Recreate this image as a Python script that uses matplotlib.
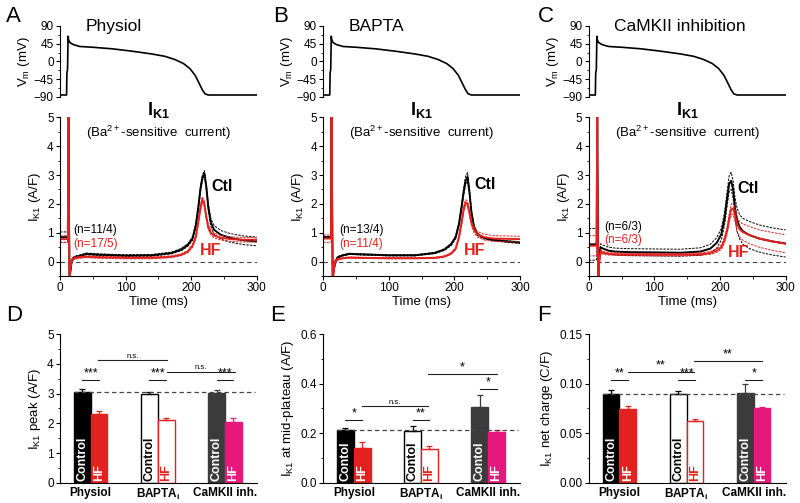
import numpy as np
import matplotlib
matplotlib.use("Agg")
import matplotlib.pyplot as plt
from matplotlib.ticker import MultipleLocator

plt.rcParams['font.family'] = ['Liberation Sans', 'DejaVu Sans']
plt.rcParams['mathtext.fontset'] = 'custom'
plt.rcParams['mathtext.rm'] = 'Liberation Sans'
plt.rcParams['mathtext.it'] = 'Liberation Sans:italic'
plt.rcParams['mathtext.bf'] = 'Liberation Sans:bold'
plt.rcParams['mathtext.default'] = 'regular'

RED = '#e3221f'
MAG = '#e5187c'
DGREY = '#3b3b3b'

# AP-clamp command waveform (same for the three conditions)
t_ap = [0, 10, 10.5, 11.5, 12.3, 13, 15, 20, 30, 50, 80, 110, 140, 160, 175,
        188, 198, 206, 212, 217, 221, 226, 300]
vm_ap = [-85, -85, -30, -20, 64, 55, 48, 43, 38, 36, 32, 26, 19, 13, 5,
         -5, -18, -35, -55, -72, -82, -85, -85]

# I_K1 traces, common time grid (ms)
t_ik1 = [0, 11, 12, 12.8, 13.6, 14.5, 16, 18, 22, 30, 40, 60, 100, 140, 170, 185,
         195, 202, 207, 211, 214, 217, 220, 223, 226, 230, 235, 245, 260, 280, 300]

# A: Physiol
ctl_a = [0.85, 0.85, 0.9, 5.2, 2.0, -0.6, -0.3, 0.05, 0.15, 0.2, 0.27, 0.24, 0.21, 0.22, 0.3, 0.42,
         0.58, 0.8, 1.25, 1.9, 2.5, 2.9, 3.07, 2.6, 1.9, 1.35, 1.1, 0.93, 0.82, 0.74, 0.70]
ctl_a_sem = [0.18, 0.18, 0.18, 0, 0, 0, 0.05, 0.05, 0.04, 0.03, 0.03, 0.03, 0.03, 0.03, 0.03, 0.04,
             0.05, 0.06, 0.08, 0.1, 0.1, 0.1, 0.08, 0.1, 0.12, 0.14, 0.15, 0.15, 0.15, 0.15, 0.15]
hf_a = [0.78, 0.78, 0.8, 5.2, 1.5, -0.7, -0.2, 0.05, 0.12, 0.15, 0.17, 0.15, 0.13, 0.13, 0.17, 0.24,
        0.35, 0.55, 0.85, 1.4, 1.85, 2.15, 2.0, 1.55, 1.2, 1.0, 0.9, 0.83, 0.78, 0.76, 0.76]
hf_a_sem = [0.12, 0.12, 0.12, 0, 0, 0, 0.05, 0.05, 0.04, 0.03, 0.03, 0.03, 0.03, 0.03, 0.03, 0.03,
            0.04, 0.05, 0.06, 0.08, 0.1, 0.1, 0.1, 0.09, 0.08, 0.08, 0.08, 0.08, 0.08, 0.08, 0.08]

# B: BAPTA
ctl_b = [0.85, 0.85, 0.9, 5.2, 2.0, -0.6, -0.3, -0.05, 0.15, 0.22, 0.27, 0.25, 0.22, 0.22, 0.3, 0.42,
         0.6, 0.85, 1.3, 1.9, 2.4, 2.8, 2.94, 2.4, 1.7, 1.2, 0.95, 0.82, 0.75, 0.7, 0.66]
ctl_b_sem = [0.03, 0.03, 0.03, 0, 0, 0, 0.05, 0.08, 0.03, 0.02, 0.02, 0.02, 0.02, 0.02, 0.02, 0.03,
             0.04, 0.05, 0.08, 0.1, 0.12, 0.15, 0.15, 0.1, 0.08, 0.05, 0.04, 0.03, 0.03, 0.03, 0.03]
hf_b = [0.8, 0.8, 0.82, 5.2, 1.5, -0.7, -0.3, 0.0, 0.08, 0.12, 0.14, 0.13, 0.12, 0.12, 0.13, 0.18,
        0.28, 0.45, 0.85, 1.35, 1.8, 2.05, 2.0, 1.7, 1.35, 1.1, 0.95, 0.85, 0.8, 0.79, 0.78]
hf_b_sem = [0.13, 0.13, 0.13, 0, 0, 0, 0.05, 0.05, 0.03, 0.02, 0.02, 0.02, 0.02, 0.02, 0.02, 0.02,
            0.03, 0.04, 0.06, 0.08, 0.1, 0.1, 0.1, 0.1, 0.1, 0.1, 0.1, 0.1, 0.1, 0.1, 0.1]

# C: CaMKII inhibition
ctl_c = [0.6, 0.6, 0.65, 5.2, 2.0, -0.5, 0.2, 0.5, 0.45, 0.38, 0.35, 0.33, 0.32, 0.31, 0.35, 0.45,
         0.65, 0.95, 1.5, 2.2, 2.7, 2.8, 2.5, 1.85, 1.45, 1.2, 1.05, 0.92, 0.8, 0.7, 0.63]
ctl_c_sem = [0.55, 0.55, 0.55, 0, 0, 0, 0.1, 0.12, 0.12, 0.12, 0.12, 0.12, 0.12, 0.12, 0.13, 0.15,
             0.18, 0.2, 0.22, 0.25, 0.28, 0.3, 0.3, 0.35, 0.4, 0.42, 0.45, 0.47, 0.47, 0.47, 0.47]
hf_c = [0.55, 0.55, 0.6, 5.2, 1.0, -0.6, 0.0, 0.35, 0.3, 0.27, 0.26, 0.25, 0.24, 0.24, 0.26, 0.3,
        0.38, 0.5, 0.75, 1.1, 1.5, 1.8, 1.85, 1.6, 1.3, 1.12, 1.02, 0.92, 0.8, 0.7, 0.62]
hf_c_sem = [0.35, 0.35, 0.35, 0, 0, 0, 0.1, 0.06, 0.05, 0.04, 0.04, 0.04, 0.04, 0.04, 0.04, 0.05,
            0.06, 0.08, 0.1, 0.12, 0.15, 0.18, 0.2, 0.22, 0.25, 0.27, 0.28, 0.3, 0.3, 0.31, 0.31]

# bar summaries
groups = ['Physiol', 'BAPTA$_\\mathregular{i}$', 'CaMKII inh.']
peak_ctl = [3.05, 3.0, 3.02]
peak_ctl_err = [0.1, 0.07, 0.1]
peak_hf = [2.3, 2.1, 2.05]
peak_hf_err = [0.1, 0.07, 0.13]
mid_ctl = [0.215, 0.21, 0.305]
mid_ctl_err = [0.008, 0.018, 0.048]
mid_hf = [0.14, 0.135, 0.205]
mid_hf_err = [0.025, 0.015, 0.008]
chg_ctl = [0.090, 0.090, 0.091]
chg_ctl_err = [0.004, 0.003, 0.009]
chg_hf = [0.074, 0.062, 0.075]
chg_hf_err = [0.004, 0.002, 0.002]

fig = plt.figure(figsize=(8, 5.03), dpi=100)

lefts = [0.075, 0.404, 0.736]
w = 0.246


def style(ax):
    for s in ['top', 'right']:
        ax.spines[s].set_visible(False)
    ax.tick_params(direction='out', length=3, width=0.8, labelsize=8.5, pad=1.5)
    ax.tick_params(which='minor', direction='out', length=1.8, width=0.6)


def trace_panel(ax, ctl, ctl_sem, hf, hf_sem, n_ctl, n_hf, lab_pos):
    t = np.array(t_ik1)
    ax.plot([0, 300], [0, 0], color='#444444', lw=0.8, dashes=(4, 3))
    for m, s, c in [(ctl, ctl_sem, 'black'), (hf, hf_sem, RED)]:
        m = np.array(m)
        s = np.array(s)
        ax.plot(t, m + s, color=c, lw=0.7, dashes=(2.5, 1.2))
        ax.plot(t, m - s, color=c, lw=0.7, dashes=(2.5, 1.2))
        ax.plot(t, m, color=c, lw=1.4)
    ax.set_xlim(0, 300)
    ax.set_ylim(-0.5, 5)
    ax.set_xticks([0, 100, 200, 300])
    ax.xaxis.set_minor_locator(MultipleLocator(50))
    ax.set_yticks([0, 1, 2, 3, 4, 5])
    ax.yaxis.set_minor_locator(MultipleLocator(0.5))
    style(ax)
    ax.set_xlabel('Time (ms)', fontsize=9.5, labelpad=1)
    ax.set_ylabel('I$_{K1}$ (A/F)', fontsize=9.5, labelpad=3)
    ax.text(150, 5.07, r'$\mathbf{I_{K1}}$', fontsize=13, ha='center', va='baseline', clip_on=False)
    ax.text(150, 4.45, '(Ba$^{2+}$-sensitive  current)', fontsize=9.5, ha='center', va='center')
    (cx, cy), (hx, hy), (nx, ny1, ny2) = lab_pos
    ax.text(cx, cy, 'Ctl', fontsize=11.5, fontweight='bold', va='center')
    ax.text(hx, hy, 'HF', fontsize=11.5, fontweight='bold', color=RED, va='center')
    ax.text(nx, ny1, n_ctl, fontsize=8.5, va='center')
    ax.text(nx, ny2, n_hf, fontsize=8.5, va='center', color=RED)


def ap_panel(ax):
    ax.plot(t_ap, vm_ap, color='black', lw=1.2)
    ax.set_xlim(0, 300)
    ax.set_ylim(-90, 90)
    ax.set_yticks([-90, -45, 0, 45, 90])
    ax.yaxis.set_minor_locator(MultipleLocator(22.5))
    ax.spines['bottom'].set_visible(False)
    ax.set_xticks([])
    style(ax)
    ax.set_ylabel('V$_m$ (mV)', fontsize=9.5, labelpad=1)


cent = np.array([1.0, 3.0, 5.0])
ctl_face = ['black', 'white', DGREY]
ctl_edge = ['black', 'black', DGREY]
hf_face = [RED, 'white', MAG]
hf_edge = [RED, RED, MAG]
ctl_txt = ['white', 'black', 'white']
hf_txt = ['white', RED, 'white']


def sig(ax, x0, x1, y, txt, fs=9):
    ax.plot([x0, x1], [y, y], color='#222222', lw=0.8)
    ax.annotate(txt, ((x0 + x1) / 2, y), xytext=(0, 0.3), textcoords='offset points',
                ha='center', va='bottom', fontsize=fs)


def bar_panel(ax, ctl, ctl_err, hf, hf_err, ref, ymax, ctl_word):
    ax.plot([0.5, 5.9], [ref, ref], color='#444444', lw=0.9, dashes=(3.5, 2.5), zorder=4)
    for i, c in enumerate(cent):
        ax.bar(c - 0.25, ctl[i], width=0.5, color=ctl_face[i], edgecolor=ctl_edge[i], lw=1.0, zorder=2)
        ax.bar(c + 0.25, hf[i], width=0.5, color=hf_face[i], edgecolor=hf_edge[i], lw=1.0, zorder=2)
        ax.errorbar(c - 0.25, ctl[i], yerr=[[0], [ctl_err[i]]], color=ctl_edge[i], capsize=2.5,
                    lw=0.9, capthick=0.9, zorder=3)
        ax.errorbar(c + 0.25, hf[i], yerr=[[0], [hf_err[i]]], color=hf_edge[i], capsize=2.5,
                    lw=0.9, capthick=0.9, zorder=3)
        ax.text(c - 0.25, ymax * 0.012, ctl_word, rotation=90, color=ctl_txt[i], fontsize=9,
                fontweight='bold', ha='center', va='bottom', zorder=5)
        ax.text(c + 0.25, ymax * 0.012, 'HF', rotation=90, color=hf_txt[i], fontsize=9,
                fontweight='bold', ha='center', va='bottom', zorder=5)
    ax.set_xlim(0.086, 5.95)
    ax.set_ylim(0, ymax)
    ax.set_xticks(cent)
    ax.set_xticklabels(groups, fontweight='bold', fontsize=9)
    style(ax)
    ax.tick_params(axis='x', length=0, pad=3)


# top row: AP waveforms
for i in range(3):
    ax = fig.add_axes([lefts[i], 0.8072, w, 0.1412])
    ap_panel(ax)

# middle row: I_K1 traces
axA = fig.add_axes([lefts[0], 0.4511, w, 0.3157])
trace_panel(axA, ctl_a, ctl_a_sem, hf_a, hf_a_sem, '(n=11/4)', '(n=17/5)',
            ((230, 2.6), (213, 0.4), (20, 1.1, 0.62)))
axB = fig.add_axes([lefts[1], 0.4511, w, 0.3157])
trace_panel(axB, ctl_b, ctl_b_sem, hf_b, hf_b_sem, '(n=13/4)', '(n=11/4)',
            ((230, 2.68), (214, 0.4), (24, 1.1, 0.62)))
axC = fig.add_axes([lefts[2], 0.4511, w, 0.3157])
trace_panel(axC, ctl_c, ctl_c_sem, hf_c, hf_c_sem, '(n=6/3)', '(n=6/3)',
            ((227, 2.55), (212, 0.3), (24, 1.2, 0.75)))

# bottom row: bar summaries
axD = fig.add_axes([lefts[0], 0.0404, w, 0.295])
bar_panel(axD, peak_ctl, peak_ctl_err, peak_hf, peak_hf_err, 3.05, 5, 'Control')
axD.set_yticks([0, 1, 2, 3, 4, 5])
axD.yaxis.set_minor_locator(MultipleLocator(0.5))
axD.set_ylabel('I$_{K1}$ peak (A/F)', fontsize=9.5, labelpad=3)
for c in cent:
    sig(axD, c - 0.25, c + 0.25, 3.45, '***')
sig(axD, 1.23, 3.26, 4.13, 'n.s.', fs=5.5)
sig(axD, 3.26, 5.29, 3.74, 'n.s.', fs=5.5)

axE = fig.add_axes([lefts[1], 0.0404, w, 0.295])
bar_panel(axE, mid_ctl, mid_ctl_err, mid_hf, mid_hf_err, 0.215, 0.6, 'Contol')
axE.set_yticks([0.0, 0.2, 0.4, 0.6])
axE.yaxis.set_minor_locator(MultipleLocator(0.1))
axE.set_yticklabels(['0.0', '0.2', '0.4', '0.6'])
axE.set_ylabel('I$_{K1}$ at mid-plateau (A/F)', fontsize=9.5, labelpad=3)
sig(axE, 0.75, 1.25, 0.254, '*')
sig(axE, 2.75, 3.25, 0.254, '**')
sig(axE, 4.75, 5.25, 0.38, '*')
sig(axE, 1.24, 3.22, 0.31, 'n.s.', fs=5.5)
sig(axE, 3.22, 5.25, 0.439, '*')

axF = fig.add_axes([lefts[2], 0.0404, w, 0.295])
bar_panel(axF, chg_ctl, chg_ctl_err, chg_hf, chg_hf_err, 0.090, 0.15, 'Control')
axF.set_yticks([0.0, 0.05, 0.10, 0.15])
axF.yaxis.set_minor_locator(MultipleLocator(0.025))
axF.set_yticklabels(['0.00', '0.05', '0.10', '0.15'])
axF.set_ylabel('I$_{K1}$ net charge (C/F)', fontsize=9.5, labelpad=3)
sig(axF, 0.75, 1.25, 0.1037, '**')
sig(axF, 2.75, 3.25, 0.1037, '***')
sig(axF, 4.75, 5.25, 0.1037, '*')
sig(axF, 1.24, 3.22, 0.112, '**')
sig(axF, 3.22, 5.25, 0.1228, '**')

# panel letters and condition titles
for x, y, s in [(0.008, 0.968, 'A'), (0.341, 0.968, 'B'), (0.6725, 0.968, 'C'),
                (0.008, 0.372, 'D'), (0.3375, 0.372, 'E'), (0.671, 0.372, 'F')]:
    fig.text(x, y, s, fontsize=16, va='center', ha='left')
fig.text(86 / 800, 0.9384, 'Physiol', fontsize=12.5, va='baseline')
fig.text(349 / 800, 0.9384, 'BAPTA', fontsize=12.5, va='baseline')
fig.text(614 / 800, 0.9384, 'CaMKII inhibition', fontsize=12.5, va='baseline')

fig.savefig('out.png', dpi=100)
